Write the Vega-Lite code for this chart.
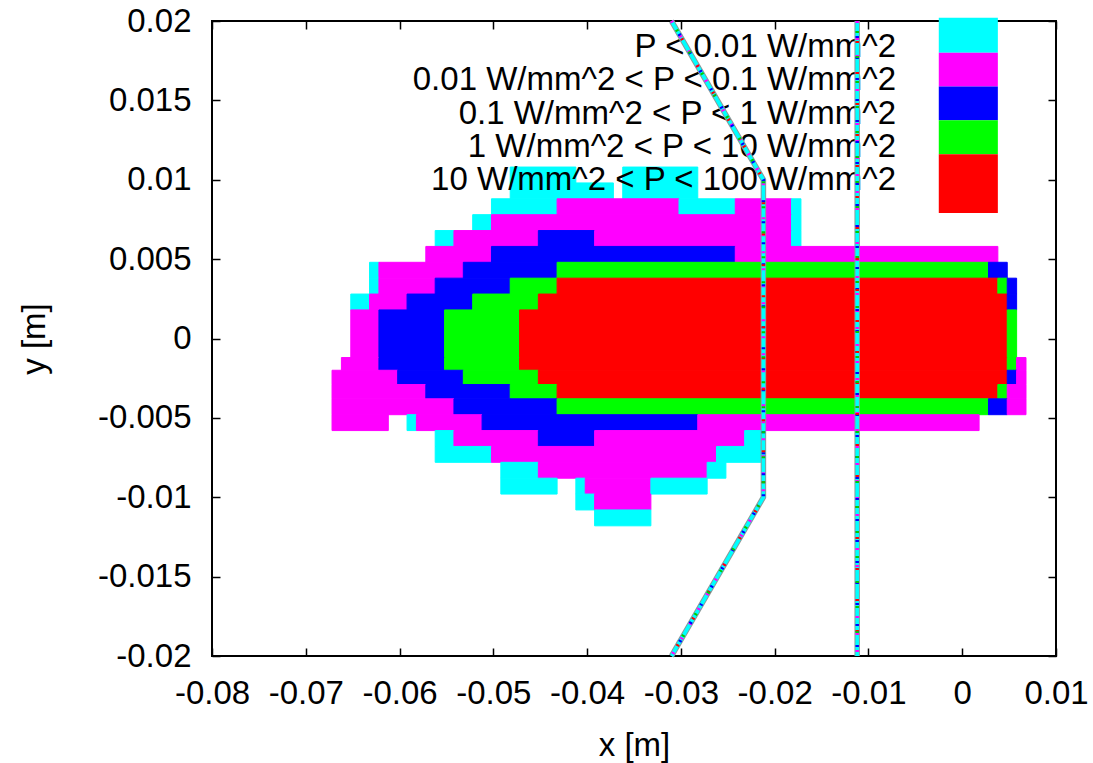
{
  "$schema": "https://vega.github.io/schema/vega-lite/v6.json",
  "width": 844,
  "height": 635,
  "autosize": {"type": "none"},
  "padding": {"left": 212, "top": 21, "right": 37, "bottom": 107},
  "background": "white",
  "config": {
    "view": {"stroke": "black", "strokeWidth": 2},
    "font": "Liberation Sans",
    "axis": {
      "labelFont": "Liberation Sans",
      "titleFont": "Liberation Sans",
      "labelFontSize": 33,
      "titleFontSize": 33,
      "labelColor": "black",
      "titleColor": "black",
      "titleFontWeight": "normal",
      "tickColor": "black",
      "tickSize": -8,
      "tickWidth": 1.5,
      "domain": false,
      "grid": false,
      "labelFlush": false,
      "labelOverlap": false
    }
  },
  "datasets": {
    "cells": [
      {"y": 0.0108, "y2": 0.0098, "x": -0.0482, "x2": -0.0412, "lvl": 1},
      {"y": 0.0108, "y2": 0.0098, "x": -0.0362, "x2": -0.0282, "lvl": 1},
      {"y": 0.0098, "y2": 0.0088, "x": -0.0482, "x2": -0.0372, "lvl": 1},
      {"y": 0.0098, "y2": 0.0088, "x": -0.0362, "x2": -0.0282, "lvl": 1},
      {"y": 0.0088, "y2": 0.0078, "x": -0.0502, "x2": -0.0432, "lvl": 1},
      {"y": 0.0088, "y2": 0.0078, "x": -0.0432, "x2": -0.0302, "lvl": 2},
      {"y": 0.0088, "y2": 0.0078, "x": -0.0302, "x2": -0.0242, "lvl": 1},
      {"y": 0.0088, "y2": 0.0078, "x": -0.0242, "x2": -0.0182, "lvl": 2},
      {"y": 0.0088, "y2": 0.0078, "x": -0.0182, "x2": -0.0172, "lvl": 1},
      {"y": 0.0078, "y2": 0.0068, "x": -0.0522, "x2": -0.0502, "lvl": 1},
      {"y": 0.0078, "y2": 0.0068, "x": -0.0502, "x2": -0.0182, "lvl": 2},
      {"y": 0.0078, "y2": 0.0068, "x": -0.0182, "x2": -0.0172, "lvl": 1},
      {"y": 0.0068, "y2": 0.0058, "x": -0.0562, "x2": -0.0542, "lvl": 1},
      {"y": 0.0068, "y2": 0.0058, "x": -0.0542, "x2": -0.0452, "lvl": 2},
      {"y": 0.0068, "y2": 0.0058, "x": -0.0452, "x2": -0.0392, "lvl": 3},
      {"y": 0.0068, "y2": 0.0058, "x": -0.0392, "x2": -0.0182, "lvl": 2},
      {"y": 0.0068, "y2": 0.0058, "x": -0.0182, "x2": -0.0172, "lvl": 1},
      {"y": 0.0058, "y2": 0.0048, "x": -0.0572, "x2": -0.0502, "lvl": 2},
      {"y": 0.0058, "y2": 0.0048, "x": -0.0502, "x2": -0.0242, "lvl": 3},
      {"y": 0.0058, "y2": 0.0048, "x": -0.0242, "x2": 0.0038, "lvl": 2},
      {"y": 0.0048, "y2": 0.0038, "x": -0.0632, "x2": -0.0622, "lvl": 1},
      {"y": 0.0048, "y2": 0.0038, "x": -0.0622, "x2": -0.0532, "lvl": 2},
      {"y": 0.0048, "y2": 0.0038, "x": -0.0532, "x2": -0.0432, "lvl": 3},
      {"y": 0.0048, "y2": 0.0038, "x": -0.0432, "x2": 0.0028, "lvl": 4},
      {"y": 0.0048, "y2": 0.0038, "x": 0.0028, "x2": 0.0048, "lvl": 3},
      {"y": 0.0038, "y2": 0.0028, "x": -0.0632, "x2": -0.0622, "lvl": 1},
      {"y": 0.0038, "y2": 0.0028, "x": -0.0622, "x2": -0.0562, "lvl": 2},
      {"y": 0.0038, "y2": 0.0028, "x": -0.0562, "x2": -0.0482, "lvl": 3},
      {"y": 0.0038, "y2": 0.0028, "x": -0.0482, "x2": -0.0432, "lvl": 4},
      {"y": 0.0038, "y2": 0.0028, "x": -0.0432, "x2": 0.0038, "lvl": 5},
      {"y": 0.0038, "y2": 0.0028, "x": 0.0038, "x2": 0.0048, "lvl": 4},
      {"y": 0.0038, "y2": 0.0028, "x": 0.0048, "x2": 0.0058, "lvl": 3},
      {"y": 0.0028, "y2": 0.0018, "x": -0.0652, "x2": -0.0632, "lvl": 1},
      {"y": 0.0028, "y2": 0.0018, "x": -0.0632, "x2": -0.0592, "lvl": 2},
      {"y": 0.0028, "y2": 0.0018, "x": -0.0592, "x2": -0.0522, "lvl": 3},
      {"y": 0.0028, "y2": 0.0018, "x": -0.0522, "x2": -0.0452, "lvl": 4},
      {"y": 0.0028, "y2": 0.0018, "x": -0.0452, "x2": 0.0048, "lvl": 5},
      {"y": 0.0028, "y2": 0.0018, "x": 0.0048, "x2": 0.0058, "lvl": 3},
      {"y": 0.0018, "y2": -0.0012, "x": -0.0652, "x2": -0.0622, "lvl": 2},
      {"y": 0.0018, "y2": -0.0012, "x": -0.0622, "x2": -0.0552, "lvl": 3},
      {"y": 0.0018, "y2": -0.0012, "x": -0.0552, "x2": -0.0472, "lvl": 4},
      {"y": 0.0018, "y2": -0.0012, "x": -0.0472, "x2": 0.0048, "lvl": 5},
      {"y": 0.0018, "y2": -0.0012, "x": 0.0048, "x2": 0.0058, "lvl": 4},
      {"y": -0.0012, "y2": -0.002, "x": -0.0662, "x2": -0.0622, "lvl": 2},
      {"y": -0.0012, "y2": -0.002, "x": -0.0622, "x2": -0.0552, "lvl": 3},
      {"y": -0.0012, "y2": -0.002, "x": -0.0552, "x2": -0.0472, "lvl": 4},
      {"y": -0.0012, "y2": -0.002, "x": -0.0472, "x2": 0.0048, "lvl": 5},
      {"y": -0.0012, "y2": -0.002, "x": 0.0048, "x2": 0.0058, "lvl": 4},
      {"y": -0.0012, "y2": -0.002, "x": 0.0058, "x2": 0.0068, "lvl": 2},
      {"y": -0.002, "y2": -0.0029, "x": -0.0672, "x2": -0.0602, "lvl": 2},
      {"y": -0.002, "y2": -0.0029, "x": -0.0602, "x2": -0.0532, "lvl": 3},
      {"y": -0.002, "y2": -0.0029, "x": -0.0532, "x2": -0.0452, "lvl": 4},
      {"y": -0.002, "y2": -0.0029, "x": -0.0452, "x2": 0.0048, "lvl": 5},
      {"y": -0.002, "y2": -0.0029, "x": 0.0048, "x2": 0.0058, "lvl": 3},
      {"y": -0.002, "y2": -0.0029, "x": 0.0058, "x2": 0.0068, "lvl": 2},
      {"y": -0.0029, "y2": -0.0038, "x": -0.0672, "x2": -0.0572, "lvl": 2},
      {"y": -0.0029, "y2": -0.0038, "x": -0.0572, "x2": -0.0482, "lvl": 3},
      {"y": -0.0029, "y2": -0.0038, "x": -0.0482, "x2": -0.0432, "lvl": 4},
      {"y": -0.0029, "y2": -0.0038, "x": -0.0432, "x2": 0.0038, "lvl": 5},
      {"y": -0.0029, "y2": -0.0038, "x": 0.0038, "x2": 0.0048, "lvl": 4},
      {"y": -0.0029, "y2": -0.0038, "x": 0.0048, "x2": 0.0068, "lvl": 2},
      {"y": -0.0038, "y2": -0.0048, "x": -0.0672, "x2": -0.0542, "lvl": 2},
      {"y": -0.0038, "y2": -0.0048, "x": -0.0542, "x2": -0.0432, "lvl": 3},
      {"y": -0.0038, "y2": -0.0048, "x": -0.0432, "x2": 0.0028, "lvl": 4},
      {"y": -0.0038, "y2": -0.0048, "x": 0.0028, "x2": 0.0048, "lvl": 3},
      {"y": -0.0038, "y2": -0.0048, "x": 0.0048, "x2": 0.0068, "lvl": 2},
      {"y": -0.0048, "y2": -0.0058, "x": -0.0672, "x2": -0.0612, "lvl": 2},
      {"y": -0.0048, "y2": -0.0058, "x": -0.0592, "x2": -0.0582, "lvl": 1},
      {"y": -0.0048, "y2": -0.0058, "x": -0.0582, "x2": -0.0512, "lvl": 2},
      {"y": -0.0048, "y2": -0.0058, "x": -0.0512, "x2": -0.0282, "lvl": 3},
      {"y": -0.0048, "y2": -0.0058, "x": -0.0282, "x2": 0.0018, "lvl": 2},
      {"y": -0.0058, "y2": -0.0068, "x": -0.0562, "x2": -0.0542, "lvl": 1},
      {"y": -0.0058, "y2": -0.0068, "x": -0.0542, "x2": -0.0452, "lvl": 2},
      {"y": -0.0058, "y2": -0.0068, "x": -0.0452, "x2": -0.0392, "lvl": 3},
      {"y": -0.0058, "y2": -0.0068, "x": -0.0392, "x2": -0.0232, "lvl": 2},
      {"y": -0.0058, "y2": -0.0068, "x": -0.0232, "x2": -0.0212, "lvl": 1},
      {"y": -0.0068, "y2": -0.0078, "x": -0.0562, "x2": -0.0502, "lvl": 1},
      {"y": -0.0068, "y2": -0.0078, "x": -0.0502, "x2": -0.0262, "lvl": 2},
      {"y": -0.0068, "y2": -0.0078, "x": -0.0262, "x2": -0.0212, "lvl": 1},
      {"y": -0.0078, "y2": -0.0088, "x": -0.0492, "x2": -0.0452, "lvl": 1},
      {"y": -0.0078, "y2": -0.0088, "x": -0.0452, "x2": -0.0272, "lvl": 2},
      {"y": -0.0078, "y2": -0.0088, "x": -0.0272, "x2": -0.0252, "lvl": 1},
      {"y": -0.0088, "y2": -0.0098, "x": -0.0492, "x2": -0.0432, "lvl": 1},
      {"y": -0.0088, "y2": -0.0098, "x": -0.0412, "x2": -0.0402, "lvl": 1},
      {"y": -0.0088, "y2": -0.0098, "x": -0.0402, "x2": -0.0332, "lvl": 2},
      {"y": -0.0088, "y2": -0.0098, "x": -0.0332, "x2": -0.0272, "lvl": 1},
      {"y": -0.0098, "y2": -0.0108, "x": -0.0412, "x2": -0.0392, "lvl": 1},
      {"y": -0.0098, "y2": -0.0108, "x": -0.0392, "x2": -0.0332, "lvl": 2},
      {"y": -0.0108, "y2": -0.0118, "x": -0.0392, "x2": -0.0332, "lvl": 1}
    ],
    "legend": [
      {"lvl": 1, "label": "P < 0.01 W/mm^2", "tx": -0.00705, "ty": 0.01773, "sx": -0.0025, "sx2": 0.0038, "sy": 0.0202, "sy2": 0.0180},
      {"lvl": 2, "label": "0.01 W/mm^2 < P < 0.1 W/mm^2", "tx": -0.00705, "ty": 0.01563, "sx": -0.0025, "sx2": 0.0038, "sy": 0.0180, "sy2": 0.01588},
      {"lvl": 3, "label": "0.1 W/mm^2 < P < 1 W/mm^2", "tx": -0.00705, "ty": 0.01353, "sx": -0.0025, "sx2": 0.0038, "sy": 0.01588, "sy2": 0.01375},
      {"lvl": 4, "label": "1 W/mm^2 < P < 10 W/mm^2", "tx": -0.00705, "ty": 0.01144, "sx": -0.0025, "sx2": 0.0038, "sy": 0.01375, "sy2": 0.01161},
      {"lvl": 5, "label": "10 W/mm^2 < P < 100 W/mm^2", "tx": -0.00705, "ty": 0.00935, "sx": -0.0025, "sx2": 0.0038, "sy": 0.01161, "sy2": 0.0079}
    ],
    "lines": [
      {"id": "a", "o": 1, "x": -0.031, "y": 0.02},
      {"id": "a", "o": 2, "x": -0.0212, "y": 0.01},
      {"id": "a", "o": 3, "x": -0.0212, "y": -0.01},
      {"id": "a", "o": 4, "x": -0.031, "y": -0.02},
      {"id": "b", "o": 1, "x": -0.0112, "y": 0.02},
      {"id": "b", "o": 2, "x": -0.0112, "y": -0.02}
    ]
  },
  "resolve": {"axis": {"x": "independent", "y": "independent"}},
  "layer": [
    {
      "data": {"name": "cells"},
      "mark": {"type": "rect", "strokeWidth": 1},
      "encoding": {
        "x": {"field": "x", "type": "quantitative",
              "scale": {"domain": [-0.08, 0.01], "nice": false, "zero": false},
              "axis": {"orient": "bottom", "title": "x [m]", "values": [-0.08, -0.07, -0.06, -0.05, -0.04, -0.03, -0.02, -0.01, 0, 0.01],
                       "labelExpr": "'' + datum.value", "labelPadding": 29, "titleBaseline": "top", "titleY": 73}},
        "x2": {"field": "x2"},
        "y": {"field": "y", "type": "quantitative",
              "scale": {"domain": [-0.02, 0.02], "nice": false, "zero": false},
              "axis": {"orient": "left", "title": "y [m]", "values": [-0.02, -0.015, -0.01, -0.005, 0, 0.005, 0.01, 0.015, 0.02],
                       "labelExpr": "'' + datum.value", "labelPadding": 29, "titleBaseline": "middle", "titleX": -178, "titleAngle": -90}},
        "y2": {"field": "y2"},
        "fill": {"field": "lvl", "type": "nominal", "scale": {"domain": [1, 2, 3, 4, 5], "range": ["#00ffff", "#ff00ff", "#0000ff", "#00ff00", "#ff0000"]}, "legend": null},
        "stroke": {"field": "lvl", "type": "nominal", "scale": {"domain": [1, 2, 3, 4, 5], "range": ["#00ffff", "#ff00ff", "#0000ff", "#00ff00", "#ff0000"]}, "legend": null}
      }
    },
    {
      "data": {"name": "legend"},
      "mark": {"type": "text", "align": "right", "baseline": "alphabetic", "fontSize": 33, "font": "Liberation Sans", "color": "black"},
      "encoding": {
        "x": {"field": "tx", "type": "quantitative", "axis": null},
        "y": {"field": "ty", "type": "quantitative", "axis": null},
        "text": {"field": "label"}
      }
    },
    {
      "data": {"name": "legend"},
      "mark": {"type": "rect"},
      "encoding": {
        "x": {"field": "sx", "type": "quantitative", "axis": null},
        "x2": {"field": "sx2"},
        "y": {"field": "sy", "type": "quantitative", "axis": null},
        "y2": {"field": "sy2"},
        "fill": {"field": "lvl", "type": "nominal", "legend": null}
      }
    },
    {
      "data": {"name": "lines"},
      "mark": {"type": "line", "color": "#8a9a9a", "strokeWidth": 5.5},
      "encoding": {
        "x": {"field": "x", "type": "quantitative",
              "axis": {"orient": "top", "labels": false, "title": null, "values": [-0.08, -0.07, -0.06, -0.05, -0.04, -0.03, -0.02, -0.01, 0, 0.01]}},
        "y": {"field": "y", "type": "quantitative",
              "axis": {"orient": "right", "labels": false, "title": null, "values": [-0.02, -0.015, -0.01, -0.005, 0, 0.005, 0.01, 0.015, 0.02]}},
        "detail": {"field": "id"},
        "order": {"field": "o"}
      }
    },
    {
      "data": {"name": "lines"},
      "mark": {"type": "line", "color": "#00ffff", "strokeWidth": 3.5},
      "encoding": {
        "x": {"field": "x", "type": "quantitative", "axis": null},
        "y": {"field": "y", "type": "quantitative", "axis": null},
        "detail": {"field": "id"},
        "order": {"field": "o"}
      }
    },
    {
      "data": {"name": "lines"},
      "mark": {"type": "line", "color": "#ff00ff", "strokeWidth": 3.5, "strokeDash": [2, 15]},
      "encoding": {
        "x": {"field": "x", "type": "quantitative", "axis": null},
        "y": {"field": "y", "type": "quantitative", "axis": null},
        "detail": {"field": "id"},
        "order": {"field": "o"}
      }
    },
    {
      "data": {"name": "lines"},
      "mark": {"type": "line", "color": "#0000ff", "strokeWidth": 3.5, "strokeDash": [2, 19], "strokeDashOffset": 6},
      "encoding": {
        "x": {"field": "x", "type": "quantitative", "axis": null},
        "y": {"field": "y", "type": "quantitative", "axis": null},
        "detail": {"field": "id"},
        "order": {"field": "o"}
      }
    },
    {
      "data": {"name": "lines"},
      "mark": {"type": "line", "color": "#ff0000", "strokeWidth": 3.5, "strokeDash": [2, 29], "strokeDashOffset": 11},
      "encoding": {
        "x": {"field": "x", "type": "quantitative", "axis": null},
        "y": {"field": "y", "type": "quantitative", "axis": null},
        "detail": {"field": "id"},
        "order": {"field": "o"}
      }
    },
    {
      "data": {"name": "lines"},
      "mark": {"type": "line", "color": "#00cc00", "strokeWidth": 3.5, "strokeDash": [2, 23], "strokeDashOffset": 15},
      "encoding": {
        "x": {"field": "x", "type": "quantitative", "axis": null},
        "y": {"field": "y", "type": "quantitative", "axis": null},
        "detail": {"field": "id"},
        "order": {"field": "o"}
      }
    }
  ]
}
